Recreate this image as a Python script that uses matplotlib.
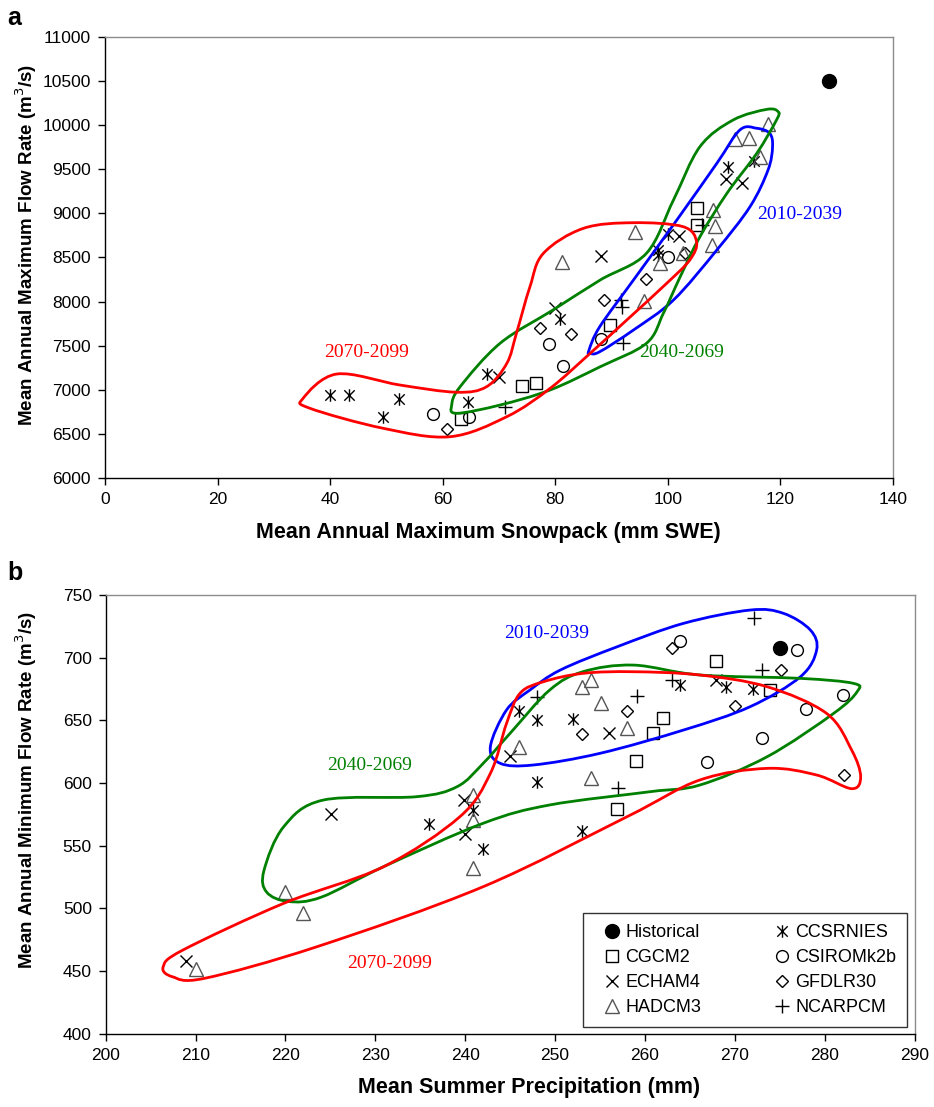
import numpy as np
import matplotlib
matplotlib.use("Agg")
from matplotlib import pyplot as plt
from matplotlib.path import Path
from matplotlib.patches import PathPatch
from matplotlib.lines import Line2D

plt.rcParams['font.family'] = ['Liberation Sans', 'DejaVu Sans']

# ---------------- panel a : snowpack vs max flow ----------------
a_hist_x = [128.6]
a_hist_y = [10504]
a_ccsr_x = [39.9, 43.3, 49.4, 52.2, 64.5, 67.8, 80.8, 98.3, 98.3, 100.1, 110.6, 115.3]
a_ccsr_y = [6939, 6939, 6686, 6893, 6863, 7177, 7798, 8585, 8528, 8767, 9531, 9599]
a_cgcm_x = [63.2, 74.1, 76.5, 89.7, 105.1, 105.2]
a_cgcm_y = [6663, 7044, 7071, 7734, 9058, 8869]
a_csiro_x = [58.3, 64.7, 78.9, 81.4, 88.1, 100.1]
a_csiro_y = [6723, 6693, 7514, 7268, 7571, 8509]
a_echam_x = [70.0, 79.9, 88.1, 101.9, 110.4, 113.2]
a_echam_y = [7147, 7923, 8520, 8744, 9388, 9349]
a_gfdl_x = [60.8, 77.2, 82.8, 88.7, 96.2, 103.1]
a_gfdl_y = [6549, 7703, 7628, 8017, 8252, 8547]
a_had_x = [81.2, 94.2, 95.8, 98.6, 102.7, 108.0, 108.4, 107.8, 111.9, 114.4, 116.4, 117.8]
a_had_y = [8452, 8793, 8010, 8441, 8548, 9039, 8857, 8642, 9842, 9853, 9644, 10016]
a_ncar_x = [71.1, 91.6, 91.8, 92.1, 106.0]
a_ncar_y = [6799, 8016, 7938, 7533, 8869]

# hand drawn period outlines (panel a)
a_red_x = [35.2, 41.2, 52.4, 62.5, 67.8, 71.4, 73.1, 75.5, 77.9, 85.0, 93.9, 102.7,
           105.1, 103.9, 99.8, 92.7, 86.2, 79.1, 71.4, 61.3, 49.4, 36.4]
a_red_y = [6901, 7177, 7052, 6970, 7033, 7299, 7639, 8168, 8548, 8831, 8895, 8850,
           8679, 8472, 8207, 7790, 7412, 7015, 6693, 6465, 6561, 6788]
a_green_x = [61.6, 62.5, 70.2, 79.1, 88.0, 96.2, 99.2, 102.2, 105.7, 110.5, 115.8,
             119.3, 119.6, 117.6, 111.6, 105.7, 101.0, 96.2, 88.0, 79.6, 70.2, 63.1]
a_green_y = [6825, 6731, 6825, 6996, 7260, 7526, 7866, 8282, 8736, 9229, 9683,
             10061, 10155, 10182, 10061, 9758, 9153, 8548, 8245, 7904, 7526, 7033]
a_blue_x = [86.2, 87.9, 93.9, 101.0, 108.7, 114.6, 117.8, 118.6, 118.1, 115.8,
            112.8, 108.7, 101.6, 93.9, 87.9, 86.0]
a_blue_y = [7412, 7430, 7677, 8017, 8585, 9077, 9493, 9758, 9910, 9967,
            9948, 9569, 8926, 8245, 7714, 7450]

# ---------------- panel b : summer precip vs min flow ----------------
b_hist_x = [275.0]
b_hist_y = [707.5]
b_ccsr_x = [246.0, 248.0, 252.0, 248.0, 253.0, 242.0, 240.9, 236.0, 263.9, 269.0, 272.0]
b_ccsr_y = [657.5, 650.3, 650.8, 601.0, 562.0, 547.1, 578.5, 567.3, 678.2, 676.3, 674.8]
b_cgcm_x = [267.9, 273.9, 262.0, 260.9, 259.0, 256.9]
b_cgcm_y = [697.6, 674.2, 651.6, 639.7, 617.6, 579.3]
b_csiro_x = [263.9, 276.9, 282.0, 277.9, 273.0, 266.9]
b_csiro_y = [713.5, 706.1, 670.2, 658.8, 635.7, 617.0]
b_echam_x = [208.9, 225.1, 239.9, 240.0, 245.0, 256.0, 267.9]
b_echam_y = [458.0, 575.0, 586.5, 559.1, 621.5, 639.7, 682.2]
b_gfdl_x = [263.0, 275.1, 270.0, 282.1, 258.0, 253.0]
b_gfdl_y = [707.5, 690.2, 661.4, 606.4, 657.5, 638.9]
b_had_x = [210.0, 220.0, 222.0, 240.9, 240.9, 240.9, 246.0, 253.0, 254.0, 255.1, 254.0, 258.0]
b_had_y = [451.4, 513.3, 496.5, 590.4, 570.5, 532.0, 628.5, 676.8, 682.2, 664.1, 604.2, 644.1]
b_ncar_x = [272.1, 273.0, 263.0, 259.1, 257.0, 248.0]
b_ncar_y = [731.4, 690.2, 682.2, 669.7, 595.8, 668.4]

b_blue_x = [242.8, 243.9, 247.6, 255.0, 264.3, 271.7, 277.3, 279.1, 278.4, 275.4,
            271.7, 264.3, 256.9, 250.6, 247.2, 244.6]
b_blue_y = [629.0, 615.7, 614.4, 623.7, 642.3, 660.9, 684.8, 706.1, 722.1, 735.4,
            738.0, 727.4, 708.7, 690.2, 674.2, 658.3]
b_green_x = [217.9, 220.3, 224.0, 230.9, 242.0, 249.4, 260.6, 266.1, 273.6, 281.0,
             283.6, 283.2, 277.3, 266.1, 258.7, 253.1, 249.4, 245.0, 242.0, 239.1,
             234.6, 224.2, 219.8, 217.6]
b_green_y = [513.0, 505.5, 509.0, 533.2, 567.9, 582.5, 593.1, 598.4, 621.0, 655.6,
             672.8, 679.5, 683.5, 686.2, 694.1, 688.8, 674.2, 639.7, 615.7, 597.1,
             589.1, 586.4, 565.1, 530.0]
b_red_x = [206.4, 207.4, 211.0, 223.5, 242.0, 258.0, 266.1, 273.6, 279.1, 283.0,
           284.0, 283.0, 280.2, 273.6, 266.1, 258.7, 253.1, 248.7, 246.1, 244.6,
           242.8, 239.4, 230.9, 219.8, 208.6]
b_red_y = [453.5, 445.5, 444.2, 469.4, 517.3, 573.1, 602.4, 611.7, 606.4, 595.5,
           605.0, 626.3, 655.6, 676.8, 686.2, 688.8, 687.5, 680.8, 671.6, 647.6,
           607.7, 573.1, 533.2, 504.0, 466.8]

periods = ['2010-2039', '2040-2069', '2070-2099']
period_colors = ['#0000ff', '#008000', '#ff0000']

# asterisk-like marker for CCSRNIES (X with vertical bar)
star_marker = Path([(-1, -1), (1, 1), (-1, 1), (1, -1), (0, -1.2), (0, 1.2)],
                   [Path.MOVETO, Path.LINETO, Path.MOVETO, Path.LINETO, Path.MOVETO, Path.LINETO])


def smooth_loop(xs, ys):
    p = np.column_stack([xs, ys])
    n = len(p)
    verts = [p[0]]
    codes = [Path.MOVETO]
    for i in range(n):
        p0, p1, p2, p3 = p[i - 1], p[i], p[(i + 1) % n], p[(i + 2) % n]
        verts += [p1 + (p2 - p0) / 6.0, p2 - (p3 - p1) / 6.0, p2]
        codes += [Path.CURVE4] * 3
    return Path(verts, codes)


def draw_points(ax, d):
    kw = dict(ls='none', mfc='none', mec='k', mew=1.0)
    ax.plot(d['hist'][0], d['hist'][1], 'o', color='k', ms=10, ls='none', zorder=5)
    ax.plot(d['ccsr'][0], d['ccsr'][1], marker=star_marker, ms=9, **kw)
    ax.plot(d['cgcm'][0], d['cgcm'][1], marker='s', ms=8, **kw)
    ax.plot(d['csiro'][0], d['csiro'][1], marker='o', ms=8.5, **kw)
    ax.plot(d['echam'][0], d['echam'][1], marker='x', ms=9, **kw)
    ax.plot(d['gfdl'][0], d['gfdl'][1], marker='D', ms=6.5, **kw)
    kw2 = dict(kw)
    kw2['mec'] = '#555555'
    ax.plot(d['had'][0], d['had'][1], marker='^', ms=9.5, **kw2)
    ax.plot(d['ncar'][0], d['ncar'][1], marker='+', ms=10, **kw)


def style_axes(ax):
    for s in ['left', 'bottom']:
        ax.spines[s].set_color('k')
        ax.spines[s].set_linewidth(1.0)
    for s in ['top', 'right']:
        ax.spines[s].set_color('#8c8c8c')
        ax.spines[s].set_linewidth(1.0)
    ax.tick_params(direction='out', length=5, width=1, labelsize=12.5, pad=5)


fig = plt.figure(figsize=(9.34, 11.07), dpi=100)

# ---- panel a
ax1 = fig.add_axes([0.1124, 0.5685, 0.8437, 0.3978])
loops_a = [(a_blue_x, a_blue_y), (a_green_x, a_green_y), (a_red_x, a_red_y)]
for (lx, ly), c in zip(loops_a, period_colors):
    ax1.add_patch(PathPatch(smooth_loop(lx, ly), fc='none', ec=c, lw=2.0, zorder=3))
draw_points(ax1, {'hist': (a_hist_x, a_hist_y), 'ccsr': (a_ccsr_x, a_ccsr_y),
                  'cgcm': (a_cgcm_x, a_cgcm_y), 'csiro': (a_csiro_x, a_csiro_y),
                  'echam': (a_echam_x, a_echam_y), 'gfdl': (a_gfdl_x, a_gfdl_y),
                  'had': (a_had_x, a_had_y), 'ncar': (a_ncar_x, a_ncar_y)})
ax1.set_xlim(0, 140)
ax1.set_ylim(6000, 11000)
ax1.set_xticks(np.arange(0, 141, 20))
ax1.set_yticks(np.arange(6000, 11001, 500))
style_axes(ax1)
ax1.set_xlabel('Mean Annual Maximum Snowpack (mm SWE)', fontsize=15.5, fontweight='bold')
ax1.set_ylabel('Mean Annual Maximum Flow Rate (m$^3$/s)', fontsize=13.5, fontweight='bold')
ax1.xaxis.set_label_coords(0.487, -0.10)
ax1.yaxis.set_label_coords(-0.084, 0.528)
tfont = dict(family='Liberation Serif', fontsize=14, ha='center', va='center')
ax1.text(46.5, 7425, '2070-2099', color='#ff0000', **tfont)
ax1.text(102.5, 7425, '2040-2069', color='#008000', **tfont)
ax1.text(123.5, 8992, '2010-2039', color='#0000ff', **tfont)

# ---- panel b
ax2 = fig.add_axes([0.1132, 0.0662, 0.8660, 0.3963])
loops_b = [(b_blue_x, b_blue_y), (b_green_x, b_green_y), (b_red_x, b_red_y)]
for (lx, ly), c in zip(loops_b, period_colors):
    ax2.add_patch(PathPatch(smooth_loop(lx, ly), fc='none', ec=c, lw=2.0, zorder=3))
draw_points(ax2, {'hist': (b_hist_x, b_hist_y), 'ccsr': (b_ccsr_x, b_ccsr_y),
                  'cgcm': (b_cgcm_x, b_cgcm_y), 'csiro': (b_csiro_x, b_csiro_y),
                  'echam': (b_echam_x, b_echam_y), 'gfdl': (b_gfdl_x, b_gfdl_y),
                  'had': (b_had_x, b_had_y), 'ncar': (b_ncar_x, b_ncar_y)})
ax2.set_xlim(200, 290)
ax2.set_ylim(400, 750)
ax2.set_xticks(np.arange(200, 291, 10))
ax2.set_yticks(np.arange(400, 751, 50))
style_axes(ax2)
ax2.set_xlabel('Mean Summer Precipitation (mm)', fontsize=15.5, fontweight='bold')
ax2.set_ylabel('Mean Annual Minimum Flow Rate (m$^3$/s)', fontsize=13.5, fontweight='bold')
ax2.xaxis.set_label_coords(0.523, -0.099)
ax2.yaxis.set_label_coords(-0.083, 0.555)
ax2.text(249.1, 719.6, '2010-2039', color='#0000ff', **tfont)
ax2.text(229.4, 613.6, '2040-2069', color='#008000', **tfont)
ax2.text(231.6, 456.3, '2070-2099', color='#ff0000', **tfont)

# legend
names = ['Historical', 'CGCM2', 'ECHAM4', 'HADCM3', 'CCSRNIES', 'CSIROMk2b', 'GFDLR30', 'NCARPCM']
mk = [dict(marker='o', mfc='k', mec='k', ms=10),
      dict(marker='s', mfc='none', mec='k', ms=8),
      dict(marker='x', mfc='none', mec='k', ms=9),
      dict(marker='^', mfc='none', mec='#555555', ms=9.5),
      dict(marker=star_marker, mfc='none', mec='k', ms=9),
      dict(marker='o', mfc='none', mec='k', ms=8.5),
      dict(marker='D', mfc='none', mec='k', ms=6.5),
      dict(marker='+', mfc='none', mec='k', ms=10)]
handles = [Line2D([], [], ls='none', mew=1.0, **m) for m in mk]
leg = ax2.legend(handles, names, ncol=2, loc='lower left', mode='expand',
                 bbox_to_anchor=(0.590, 0.015, 0.401, 0.244),
                 fontsize=13, frameon=True, fancybox=False, edgecolor='k',
                 handlelength=2.0, handletextpad=-0.25, columnspacing=2.0,
                 labelspacing=0.45, borderpad=0.6, borderaxespad=0.0)
leg.get_frame().set_linewidth(1.0)

fig.text(0.008, 0.984, 'a', fontsize=18, fontweight='bold', va='center')
fig.text(0.008, 0.482, 'b', fontsize=18, fontweight='bold', va='center')

fig.savefig('out.png', dpi=100)
